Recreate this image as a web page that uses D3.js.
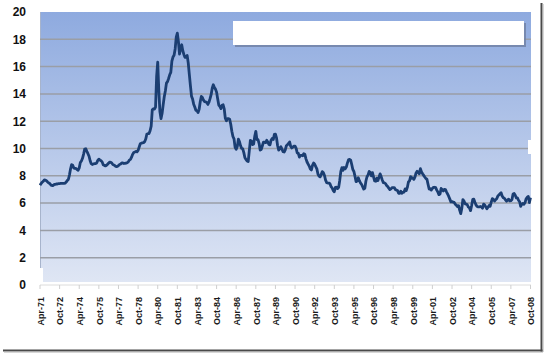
<!DOCTYPE html>
<html>
<head>
<meta charset="utf-8">
<script src="https://cdnjs.cloudflare.com/ajax/libs/d3/7.8.5/d3.min.js"></script>
<style>
  html, body { margin: 0; padding: 0; background: #ffffff; }
  svg { display: block; }
</style>
</head>
<body>
<svg id="chart" width="547" height="358"></svg>
<script>
// ---------- DATA ----------
const rates1971 = [7.31,7.43,7.53,7.60,7.70,7.69,7.63,7.55,7.48];
const rates1970s = [
  7.44,7.32,7.29,7.29,7.37,7.37,7.40,7.40,7.42,7.43,7.44,7.44,
  7.44,7.44,7.46,7.54,7.65,7.73,8.05,8.50,8.82,8.77,8.58,8.54,
  8.54,8.46,8.41,8.58,8.97,9.09,9.28,9.59,9.96,9.98,9.79,9.62,
  9.43,9.10,8.89,8.83,8.86,8.89,8.89,8.94,9.13,9.22,9.15,9.10,
  9.02,8.81,8.76,8.73,8.76,8.85,8.93,9.00,8.98,8.92,8.81,8.79,
  8.72,8.67,8.69,8.75,8.83,8.86,8.94,8.94,8.90,8.92,8.93,8.96,
  9.02,9.15,9.20,9.36,9.57,9.71,9.74,9.78,9.76,9.86,10.11,10.35,
  10.39,10.41,10.43,10.50,10.69,11.04,11.09,11.09,11.30,11.64,12.83,12.90
];
const rates1980s = [
  12.88,13.04,15.28,16.32,14.26,12.71,12.19,12.56,13.20,13.79,14.21,14.79,
  14.90,15.13,15.40,15.58,16.40,16.70,16.83,17.29,18.16,18.45,17.83,16.92,
  17.40,17.60,17.16,16.89,16.68,16.70,16.82,16.27,15.43,14.61,13.83,13.62,
  13.25,13.04,12.80,12.78,12.63,12.87,13.42,13.81,13.73,13.54,13.44,13.42,
  13.37,13.23,13.39,13.65,13.94,14.42,14.67,14.47,14.35,14.13,13.64,13.18,
  13.08,12.92,13.17,13.20,12.91,12.22,12.03,12.19,12.19,12.14,11.78,11.26,
  10.88,10.71,10.08,9.94,10.14,10.68,10.51,10.20,10.01,9.98,9.70,9.32,
  9.20,9.08,9.04,9.83,10.60,10.54,10.28,10.33,10.89,11.26,10.65,10.64,
  10.38,9.89,9.93,10.20,10.46,10.46,10.43,10.60,10.48,10.30,10.27,10.61,
  10.73,10.65,11.03,11.05,10.77,10.20,9.88,9.99,10.13,9.95,9.77,9.74
];
const rates1990s = [
  9.90,10.20,10.27,10.37,10.48,10.16,10.04,10.10,10.18,10.18,10.01,9.67,
  9.64,9.37,9.50,9.49,9.47,9.62,9.58,9.24,9.01,8.86,8.71,8.50,
  8.43,8.76,8.94,8.85,8.67,8.51,8.13,7.98,7.92,8.09,8.31,8.22,
  8.02,7.68,7.50,7.47,7.47,7.42,7.21,7.11,6.92,6.83,7.16,7.17,
  7.06,7.15,7.68,8.32,8.60,8.40,8.61,8.51,8.64,8.93,9.17,9.20,
  9.15,8.83,8.46,8.32,7.96,7.57,7.61,7.86,7.64,7.48,7.38,7.20,
  7.03,7.08,7.62,7.93,8.07,8.32,8.25,8.00,8.23,7.92,7.62,7.60,
  7.82,7.65,7.90,8.14,7.94,7.69,7.50,7.48,7.43,7.29,7.21,7.10,
  6.99,7.04,7.13,7.14,7.14,7.00,6.95,6.92,6.72,6.71,6.87,6.72,
  6.79,6.81,7.04,6.92,7.15,7.55,7.63,7.94,7.82,7.85,7.74,7.91
];
const rates2000s = [
  8.21,8.33,8.24,8.15,8.52,8.29,8.15,8.03,7.91,7.80,7.75,7.38,
  7.03,7.05,6.95,7.08,7.15,7.16,7.13,6.95,6.82,6.62,6.66,7.07,
  7.00,6.89,7.01,6.99,6.81,6.65,6.49,6.29,6.09,6.11,6.07,6.05,
  5.92,5.84,5.75,5.81,5.48,5.23,5.63,6.26,6.15,5.95,5.93,5.88,
  5.71,5.64,5.45,5.83,6.27,6.29,6.06,5.87,5.75,5.72,5.73,5.75,
  5.71,5.63,5.93,5.86,5.72,5.58,5.70,5.82,5.77,6.07,6.33,6.27,
  6.15,6.25,6.32,6.51,6.60,6.68,6.76,6.52,6.40,6.36,6.24,6.14,
  6.22,6.29,6.16,6.18,6.26,6.66,6.70,6.57,6.38,6.38,6.21,6.10,
  5.76,5.92,5.97,5.92,6.04,6.32,6.43,6.48,6.04,6.40
];
const tickLabels = ["Apr-71","Oct-72","Apr-74","Oct-75","Apr-77","Oct-78","Apr-80","Oct-81","Apr-83",
  "Oct-84","Apr-86","Oct-87","Apr-89","Oct-90","Apr-92","Oct-93","Apr-95","Oct-96","Apr-98",
  "Oct-99","Apr-01","Oct-02","Apr-04","Oct-05","Apr-07","Oct-08"];
const yTicks = [0,2,4,6,8,10,12,14,16,18,20];
const tickEvery = 18; // months between category labels

const rates = [].concat(rates1971, rates1970s, rates1980s, rates1990s, rates2000s);

(function draw() {
  const svg = d3.select("#chart");
  const pL = 40, pR = 530.5, pT = 12, pB = 285;

  const x = d3.scaleLinear().domain([0, rates.length - 1]).range([pL, pR]);
  const y = d3.scaleLinear().domain([0, 20]).range([pB, pT]);

  // frame shadow
  svg.append("line").attr("x1", 541.5).attr("x2", 541.5).attr("y1", 3).attr("y2", 352)
    .attr("stroke", "#4a4a4a").attr("stroke-width", 2);
  svg.append("line").attr("x1", 543).attr("x2", 543).attr("y1", 4).attr("y2", 352)
    .attr("stroke", "#b0b0b0").attr("stroke-width", 1);
  svg.append("line").attr("x1", 3).attr("x2", 542.5).attr("y1", 350.5).attr("y2", 350.5)
    .attr("stroke", "#4a4a4a").attr("stroke-width", 2);
  svg.append("line").attr("x1", 4).attr("x2", 543).attr("y1", 352).attr("y2", 352)
    .attr("stroke", "#b0b0b0").attr("stroke-width", 1);

  // gradient plot background
  const defs = svg.append("defs");
  const grad = defs.append("linearGradient").attr("id", "bg")
    .attr("x1", 0).attr("y1", 0).attr("x2", 0).attr("y2", 1);
  grad.append("stop").attr("offset", "0%").attr("stop-color", "#8eaadf");
  grad.append("stop").attr("offset", "100%").attr("stop-color", "#dfe6f4");

  svg.append("rect").attr("x", pL).attr("y", pT).attr("width", 531 - pL).attr("height", 282 - pT)
    .attr("fill", "url(#bg)");
  svg.append("line").attr("x1", pL + 0.5).attr("x2", pL + 0.5).attr("y1", pT).attr("y2", 282)
    .attr("stroke", "#a7b4cc").attr("stroke-width", 1);

  // gridlines
  svg.append("g").selectAll("line").data(yTicks.filter(d => d > 0 && d < 20)).join("line")
    .attr("x1", pL).attr("x2", 531)
    .attr("y1", d => y(d)).attr("y2", d => y(d))
    .attr("stroke", "#9a9ea6").attr("stroke-width", 1.5);

  // small white artifacts
  svg.append("rect").attr("x", pL).attr("y", 268).attr("width", 3).attr("height", 15).attr("fill", "#ffffff");
  svg.append("rect").attr("x", 528).attr("y", 140).attr("width", 3).attr("height", 14).attr("fill", "#ffffff");

  // y labels
  svg.append("g").selectAll("text").data(yTicks).join("text")
    .attr("x", 26).attr("y", d => y(d)).attr("dy", "0.36em")
    .attr("text-anchor", "end")
    .attr("font-family", "Liberation Sans, Arial, sans-serif")
    .attr("font-weight", "bold").attr("font-size", 12).attr("fill", "#111")
    .text(d => d);

  // x axis line + ticks
  svg.append("line").attr("x1", pL).attr("x2", 531).attr("y1", pB).attr("y2", pB)
    .attr("stroke", "#dcdcdc").attr("stroke-width", 1);
  svg.append("g").selectAll("line").data(tickLabels).join("line")
    .attr("x1", (d, i) => x(i * tickEvery)).attr("x2", (d, i) => x(i * tickEvery))
    .attr("y1", pB).attr("y2", pB + 4)
    .attr("stroke", "#cfcfcf").attr("stroke-width", 1);

  // x labels
  svg.append("g").selectAll("text").data(tickLabels).join("text")
    .attr("transform", (d, i) => `translate(${x(i * tickEvery) + 0.5},297) rotate(-90)`)
    .attr("text-anchor", "end").attr("dy", "0.36em")
    .attr("font-family", "Liberation Sans, Arial, sans-serif")
    .attr("font-weight", "bold")
    .attr("font-size", 9).attr("fill", "#1a1a1a")
    .text(d => d);

  // legend box (empty)
  svg.append("rect").attr("x", 235).attr("y", 23).attr("width", 291).attr("height", 24)
    .attr("fill", "#6f7fa3").attr("opacity", 0.8);
  svg.append("rect").attr("x", 233).attr("y", 21).attr("width", 291).attr("height", 24)
    .attr("fill", "#ffffff");

  // line
  const line = d3.line().x((d, i) => x(i)).y(d => y(d));
  svg.append("path").datum(rates).attr("d", line)
    .attr("fill", "none").attr("stroke", "#1b3e72").attr("stroke-width", 2.8)
    .attr("stroke-linejoin", "round");
})();
</script>
</body>
</html>
